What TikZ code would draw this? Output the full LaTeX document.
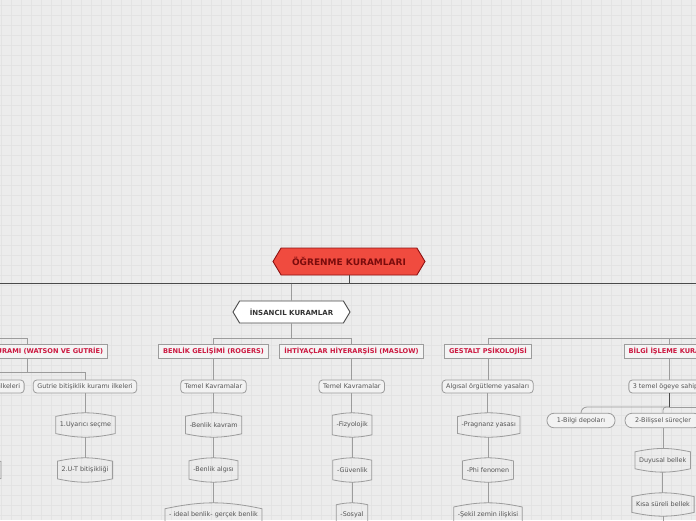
\documentclass[tikz,border=0pt]{standalone}
\usepackage{fontspec}
\setmainfont{DejaVu Sans}
\usetikzlibrary{shapes.symbols,calc}
\definecolor{bgcol}{HTML}{ECECEC}
\definecolor{gridcol}{HTML}{E3E3E3}
\definecolor{rootfill}{HTML}{F04B3F}
\definecolor{rootline}{HTML}{8E1212}
\definecolor{roottext}{HTML}{7A0C0C}
\definecolor{headred}{HTML}{CC1840}
\definecolor{headfill}{HTML}{F4F4F4}
\definecolor{leaffill}{HTML}{F2F2F2}
\definecolor{boxline}{HTML}{9C9C9C}
\definecolor{leaftext}{HTML}{555555}
\definecolor{barline}{HTML}{4A4A4A}
\begin{document}
\begin{tikzpicture}[x=1pt,y=-1pt,
    mainlink/.style={draw=barline, line width=0.9},
    link/.style={draw=boxline, line width=0.8},
    rootnode/.style={shape=signal, signal to=west and east, signal pointer angle=118, draw=rootline, line width=0.9, fill=rootfill, text=roottext, font=\bfseries\fontsize{9}{10}\selectfont, minimum width=152, minimum height=27, inner sep=0},
    groupnode/.style={rootnode, draw=barline, fill=white, text=black!80, font=\bfseries\fontsize{7}{8}\selectfont, minimum width=117, minimum height=22},
    headbox/.style={draw=boxline, fill=headfill, line width=0.8, text=headred, font=\bfseries\fontsize{6.6}{7}\selectfont, minimum height=14, inner xsep=4.5, inner ysep=0},
    leafbox/.style={draw=boxline, fill=leaffill, rounded corners=3.5, line width=0.8, text=leaftext, font=\fontsize{6.4}{7}\selectfont, minimum height=13, inner xsep=4, inner ysep=0},
    pillbox/.style={leafbox, rounded corners=7, minimum height=14.5, inner xsep=10},
    barrel/.style={text=leaftext, font=\fontsize{6.4}{7}\selectfont, minimum height=24, inner xsep=4, inner ysep=0}]
    \useasboundingbox (0,0) rectangle (696,520);
    \clip (0,0) rectangle (696,520);
    % paper
    \fill[bgcol] (0,0) rectangle (696,520);
    \foreach \g in {0,...,69} \draw[gridcol, line width=0.5] ({\g*10+1.7},0) -- ({\g*10+1.7},520);
    \foreach \g in {0,...,51} \draw[gridcol, line width=0.5] (0,{\g*10+5}) -- (696,{\g*10+5});
    % top levels
    \node[rootnode] (root) at (349,261.5) {ÖĞRENME KURAMLARI};
    \node[groupnode] (insan) at (291.5,312) {İNSANCIL KURAMLAR};
    % theories
    \node[headbox] (watson) at (27,351) {BİTİŞİKLİK KURAMI (WATSON VE GUTRİE)};
    \node[headbox] (benlik) at (213.5,351) {BENLİK GELİŞİMİ (ROGERS)};
    \node[headbox] (ihtiyac) at (351.5,351) {İHTİYAÇLAR HİYERARŞİSİ (MASLOW)};
    \node[headbox] (gestalt) at (488,351) {GESTALT PSİKOLOJİSİ};
    \node[headbox] (bilgi) at (669,351) {BİLGİ İŞLEME KURAMI};
    % second row
    \node[leafbox, anchor=east] (watilke) at (24.5,386.5) {Watson bitişiklik kuramı ilkeleri};
    \node[leafbox] (gutrie) at (85,386.5) {Gutrie bitişiklik kuramı ilkeleri};
    \node[leafbox] (tk1) at (213.5,386.5) {Temel Kavramalar};
    \node[leafbox] (tk2) at (351.8,386.5) {Temel Kavramalar};
    \node[leafbox] (ag) at (487.7,386.5) {Algısal örgütleme yasaları};
    \node[leafbox] (ug) at (669,386.5) {3 temel ögeye sahiptir};
    \node[pillbox] (dp) at (581,420.5) {1-Bilgi depoları};
    \node[pillbox] (bs) at (663,420.5) {2-Bilişsel süreçler};
    % barrels
    \node[barrel, minimum width=60, anchor=east] (w1) at (1,470) {};
    \node[barrel] (u1) at (85.5,425) {1.Uyarıcı seçme};
    \node[barrel] (u2) at (85,470) {2.U-T bitişikliği};
    \node[barrel] (bk) at (213.7,425) {-Benlik kavram};
    \node[barrel] (ba) at (213.5,470) {-Benlik algısı};
    \node[barrel] (ib) at (213.5,515) {- ideal benlik- gerçek benlik};
    \node[barrel] (fz) at (352.2,425) {-Fizyolojik};
    \node[barrel] (gv) at (352.3,470) {-Güvenlik};
    \node[barrel] (ss) at (352,515) {-Sosyal};
    \node[barrel] (pr) at (488.7,425) {-Pragnanz yasası};
    \node[barrel] (ph) at (488,470) {-Phi fenomen};
    \node[barrel] (sk) at (488,515) {-Şekil zemin ilişkisi};
    \node[barrel, minimum height=23.3] (db) at (662.7,460.3) {Duyusal bellek};
    \node[barrel, minimum height=23] (ks) at (663,504.5) {Kısa süreli bellek};
    \foreach \b in {w1,u1,u2,bk,ba,ib,fz,gv,ss,pr,ph,sk,db,ks}
        \draw[link] let \p1=(\b.north west), \p2=(\b.north east), \n1={0.061*(\x2-\x1)} in
            ([yshift=-\n1]\b.north west) to[bend left=12] ([yshift=-\n1]\b.north east)
            -- ([yshift=\n1]\b.south east) to[bend left=12] ([yshift=\n1]\b.south west) -- cycle;
    % connectors
    \coordinate (barL) at (0,283.5); \coordinate (barR) at (696,283.5);
    \draw[mainlink] (barL) -- (barR);
    \draw[mainlink] (root.south) -- (root.south |- barL);
    \draw[link] (insan.north |- barL) -- (insan.north);
    \coordinate (insbar) at (291.5,338.5);
    \draw[link] (insan.south) -- (insbar) -| (benlik.north);
    \draw[link] (insbar) -| (ihtiyac.north);
    \coordinate (davbar) at (0,338.5);
    \draw[link] (davbar) -| (watson.north);
    \coordinate (bilbar) at (696,338.5);
    \draw[link] (bilbar) -| (gestalt.north);
    \draw[link] (bilgi.north |- bilbar) -- (bilgi.north);
    \coordinate (watbar) at (27,372.5);
    \draw[link] (watson.south) -- (watbar) -| (gutrie.north);
    \draw[link] (watbar) -| (watilke.north);
    \coordinate (ugbar) at (669,407);
    \coordinate (ugend) at (700,407);
    \draw[mainlink] (ug.south) -- (ugbar);
    \draw[link, rounded corners=6] (ugbar) -| (dp.north);
    \draw[link, rounded corners=3] (ugbar) -| (bs.north);
    \draw[link] (ugbar) -- (ugend);
    \coordinate (ksend) at (663,525);
    \draw[link] (ks.south) -- (ksend);
    \foreach \a/\b in {benlik/tk1,ihtiyac/tk2,gestalt/ag,bilgi/ug,gutrie/u1,u1/u2,tk1/bk,bk/ba,ba/ib,tk2/fz,fz/gv,gv/ss,ag/pr,pr/ph,ph/sk,bs/db,db/ks}
        \draw[link] (\a.south) -- (\a.south |- \b.north);
\end{tikzpicture}
\end{document}
